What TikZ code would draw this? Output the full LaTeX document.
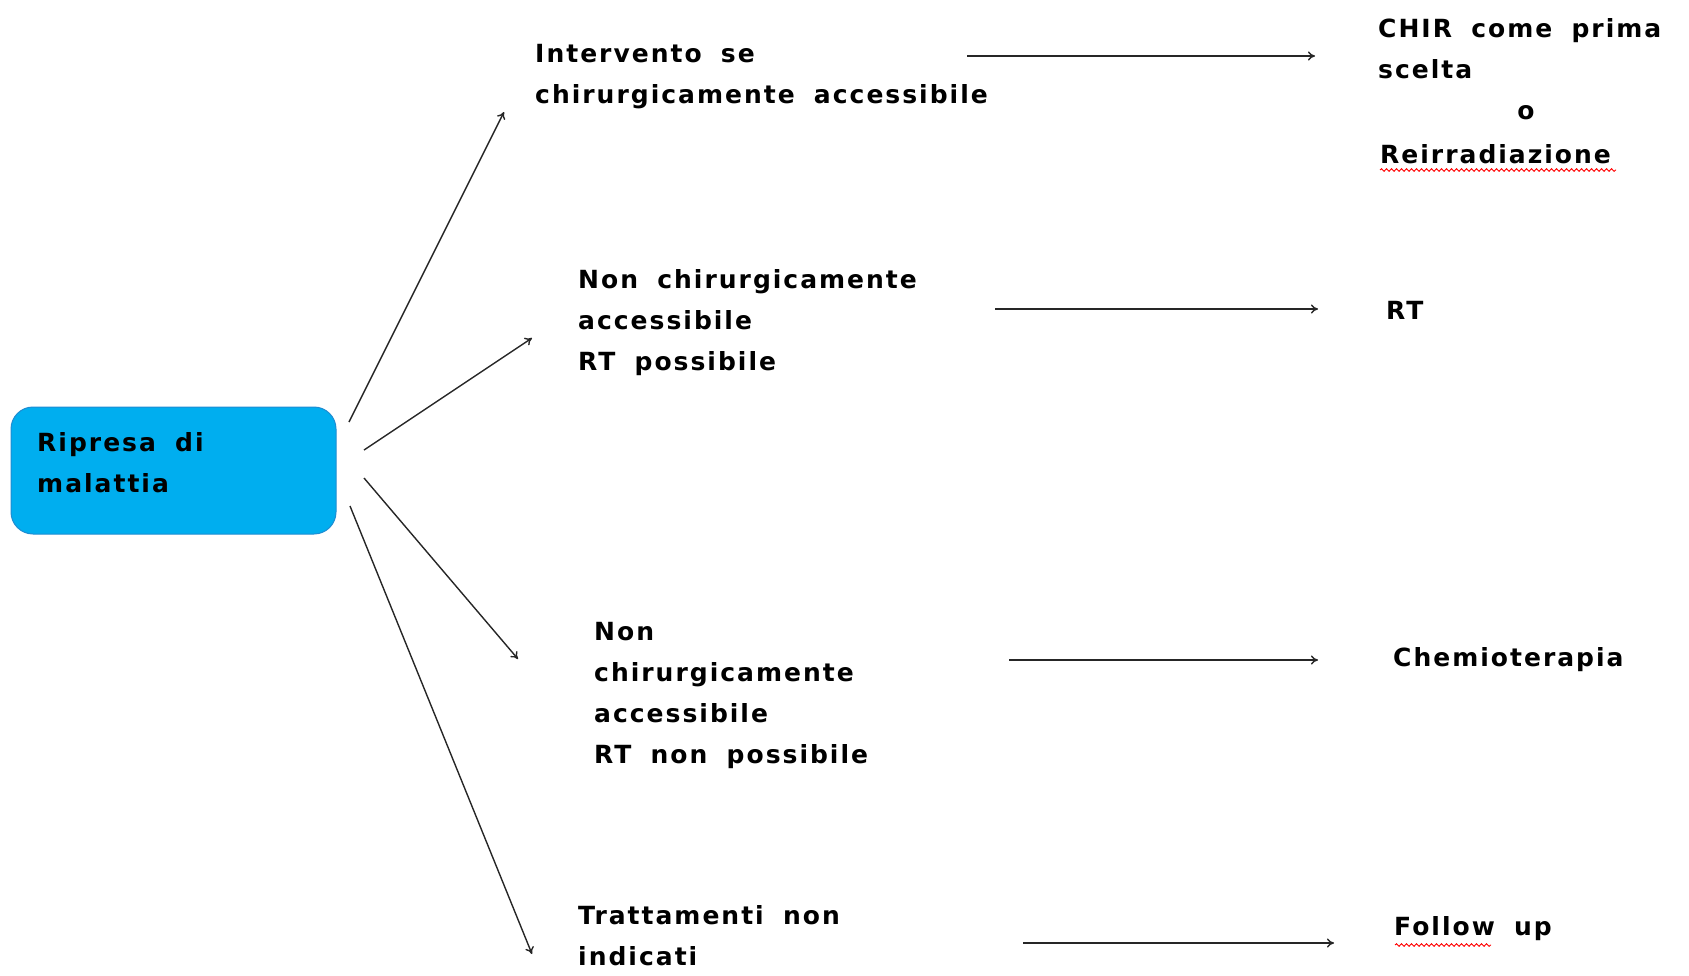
\documentclass[tikz,border=0pt]{standalone}
\usepackage{fontspec}
\setmainfont{DejaVu Sans}[LetterSpace=8,WordSpace=1.8]
\usetikzlibrary{arrows.meta,decorations.pathmorphing}
\definecolor{boxfill}{RGB}{0,174,239}
\definecolor{boxline}{RGB}{30,140,210}
\begin{document}
\begin{tikzpicture}[x=1pt,y=-1pt,
  txt/.style={anchor=west,align=left,inner sep=0pt,font=\fontsize{25}{41}\selectfont\bfseries},
  arr/.style={-{To[length=7pt,width=9pt]},line width=1.4pt,draw=black!85},
  wavy/.style={draw=red,line width=0.9pt,decorate,decoration={snake,segment length=5pt,amplitude=1.3pt}},
  mainbox/.style={draw=boxline,line width=1pt,fill=boxfill,rounded corners=22pt,minimum width=325pt,minimum height=127pt,inner sep=0pt}]
\useasboundingbox (0,0) rectangle (1689,975);
% main box
\node[mainbox] (box) at (173.5,470.5) {};
\node[txt] (boxtxt) at (37,463) {Ripresa di\\malattia};
% middle texts
\node[txt] (t1) at (535,77) {Intervento se\\chirurgicamente accessibile};
\node[txt] (t2) at (578,323) {Non chirurgicamente\\accessibile\\RT possibile};
\node[txt] (t3) at (594,695) {Non\\chirurgicamente\\accessibile\\RT non possibile};
\node[txt] (t4) at (578,936) {Trattamenti non\\indicati};
% right texts
\node[txt] (r1) at (1378,49) {CHIR come prima\\scelta};
\node[txt,anchor=center] (r1o) at (1526,113) {o};
\node[txt] (r1b) at (1380,154) {Reirradiazione};
\node[txt] (r2) at (1386,310) {RT};
\node[txt] (r3) at (1393,660) {Chemioterapia};
\node[txt] (r4) at (1394,929) {Follow up};
% spell-check underlines
\coordinate (u1a) at (1380,170); \coordinate (u1b) at (1616,170);
\coordinate (u2a) at (1395,945); \coordinate (u2b) at (1491,945);
\draw[wavy] (u1a) -- (u1b);
\draw[wavy] (u2a) -- (u2b);
% diagonal arrow endpoints
\coordinate (s1) at (349,422); \coordinate (e1) at (504,112);
\coordinate (s2) at (364,450); \coordinate (e2) at (532,338);
\coordinate (s3) at (364,478); \coordinate (e3) at (518,659);
\coordinate (s4) at (350,506); \coordinate (e4) at (532,954);
\draw[arr] (s1) -- (e1);
\draw[arr] (s2) -- (e2);
\draw[arr] (s3) -- (e3);
\draw[arr] (s4) -- (e4);
% horizontal arrows
\coordinate (h1a) at (967,56);  \coordinate (h1b) at (1315,56);
\coordinate (h2a) at (995,309); \coordinate (h2b) at (1318,309);
\coordinate (h3a) at (1009,660); \coordinate (h3b) at (1318,660);
\coordinate (h4a) at (1023,943); \coordinate (h4b) at (1334,943);
\draw[arr] (h1a) -- (h1b);
\draw[arr] (h2a) -- (h2b);
\draw[arr] (h3a) -- (h3b);
\draw[arr] (h4a) -- (h4b);
\end{tikzpicture}
\end{document}
